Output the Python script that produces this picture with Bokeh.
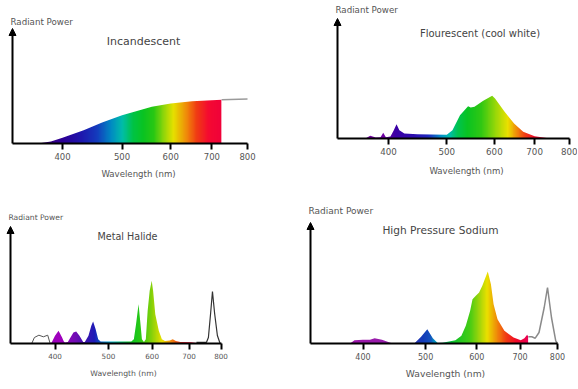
import numpy as np
from bokeh.plotting import figure
from bokeh.layouts import column, row
from bokeh.models import FixedTicker, BasicTickFormatter, Label, Arrow, NormalHead, Range1d
from bokeh.embed import file_html
from bokeh.resources import INLINE

# ---------------- data (wavelength in nm, relative radiant power) ----------------
TICKS = [400, 500, 600, 700, 800]
TICK_LABELS = ["400", "500", "600", "700", "800"]
X_LABEL = "Wavelength (nm)"
Y_LABEL = "Radiant Power"
TITLES = ["Incandescent", "Flourescent (cool white)", "Metal Halide", "High Pressure Sodium"]

# Incandescent
inc_wl = [365, 383, 400, 433, 464, 500, 527, 559, 600, 650, 700, 726]
inc_pw = [0, 2, 5.7, 13.3, 21, 28.3, 32.3, 36.7, 40, 42.3, 43.3, 43.7]
inc_tail_wl = [726, 800]
inc_tail_pw = [43.7, 44.5]

# Fluorescent (cool white)
flu_wl = [366, 373, 381, 388, 392, 396, 403, 408, 412.5, 417, 425, 447, 472, 500,
          511, 526, 542.5, 548, 556, 575, 595, 601.5, 624, 647, 670, 700, 743]
flu_pw = [0, 2.7, 1, 1.3, 5.7, 1.3, 2, 8, 14.3, 8.3, 5, 4.3, 4, 3.7,
          8.3, 23.3, 32.3, 31, 31.7, 37.7, 42.7, 40, 26.7, 15, 6.7, 2.3, 0]

# Metal Halide
mh_uv_wl = [363, 367, 374, 381, 388, 392]
mh_uv_pw = [0, 6, 8.3, 6.7, 8.3, 0]
mh_wl = [392, 394.5, 400, 406, 412, 415, 417, 422, 432, 437, 443, 450,
         453, 460, 465.5, 469, 474, 479, 484, 500, 536, 550,
         556, 561, 567, 572, 575, 580,
         584.5, 589, 594, 599, 602.5, 608, 617, 625, 633,
         646, 654, 662.5, 675, 706, 722]
mh_pw = [0, 1, 7.7, 12.7, 6, 2, 1, 1.5, 11, 12, 7.7, 1.5,
         1.5, 7.7, 17.7, 22, 14.3, 4.3, 2, 2, 2, 2,
         4.3, 19, 39.3, 17.7, 4.3, 1.5,
         4.3, 32.7, 52.7, 62.7, 52.7, 29.3, 12.7, 4.3, 2.5,
         3, 4.3, 2.5, 1.5, 1.2, 0.6]
mh_ir_wl = [722, 753, 759, 766, 772, 779, 788, 797]
mh_ir_pw = [1.2, 1.2, 6, 30, 52, 30, 8, 0]

# High Pressure Sodium
hps_wl = [382, 388, 400, 410, 417, 428, 442, 481, 492, 503, 513, 522, 531,
          556, 568, 577, 586, 591, 598, 605, 612, 624, 631, 637, 646, 662,
          684, 702, 711, 718, 721]
hps_pw = [0, 3.3, 3.7, 3.7, 5.3, 3.7, 0.4, 0.4, 6.7, 14.3, 5.3, 0.4, 0.8,
          3.3, 7.7, 17.7, 32.7, 44.3, 47.7, 51, 57.7, 72, 59.3, 39.3, 24.3, 12.7,
          6, 3.3, 5.3, 8.7, 6.7]
hps_ir_wl = [721, 730, 739, 749, 763, 772, 783, 795, 800]
hps_ir_pw = [6.7, 6.7, 5.3, 11, 36, 56, 26, 2.7, 0]

# ---------------- styling: colour stops of the visible-spectrum gradient ----------------
TL_STOPS = [(360, (70, 0, 120)), (400, (45, 0, 150)), (430, (30, 25, 175)),
            (455, (20, 60, 190)), (480, (0, 140, 195)), (500, (0, 190, 170)),
            (520, (0, 195, 70)), (540, (10, 195, 35)), (562, (40, 200, 20)),
            (585, (150, 215, 10)), (605, (230, 225, 0)), (635, (240, 140, 10)),
            (660, (240, 60, 20)), (690, (245, 10, 50)), (730, (240, 0, 60))]
TR_STOPS = [(360, (120, 0, 160)), (395, (110, 0, 165)), (410, (60, 0, 165)),
            (440, (45, 15, 175)), (465, (30, 40, 190)), (490, (0, 150, 200)),
            (505, (0, 190, 170)), (520, (0, 195, 80)), (540, (10, 195, 35)),
            (570, (50, 200, 20)), (600, (150, 215, 10)), (630, (235, 225, 0)),
            (650, (240, 145, 10)), (670, (240, 70, 20)), (695, (240, 15, 40)),
            (745, (235, 0, 70))]
BL_STOPS = [(360, (150, 0, 180)), (410, (160, 0, 190)), (437, (110, 15, 180)),
            (455, (60, 20, 175)), (472, (30, 30, 185)), (490, (0, 120, 200)),
            (505, (0, 175, 200)), (525, (0, 190, 120)), (545, (10, 195, 40)),
            (570, (40, 200, 20)), (600, (140, 210, 10)), (625, (235, 225, 0)),
            (645, (240, 150, 10)), (665, (240, 80, 20)), (685, (240, 20, 40)),
            (725, (235, 0, 60))]
BR_STOPS = [(360, (160, 20, 170)), (440, (150, 30, 170)), (470, (60, 50, 180)),
            (495, (20, 60, 185)), (508, (20, 80, 190)), (518, (0, 160, 190)),
            (535, (0, 190, 100)), (555, (20, 195, 40)), (585, (70, 205, 20)),
            (607, (170, 215, 10)), (622, (235, 225, 0)), (644, (240, 140, 10)),
            (665, (240, 60, 20)), (690, (240, 10, 40)), (722, (235, 0, 90))]

FONT = "DejaVu Sans"
TEXT_COLOR = "#555555"
TITLE_COLOR = "#444444"


def gradient_image(x0, x1, stops, n=400):
    # columns evenly spaced on screen (log x scale)
    t = (np.arange(n) + 0.5) / n
    wl = x0 * (x1 / x0) ** t
    sw = [s[0] for s in stops]
    img = np.empty((2, n), dtype=np.uint32)
    view = img.view(dtype=np.uint8).reshape((2, n, 4))
    for c in range(3):
        vals = np.interp(wl, sw, [s[1][c] for s in stops]).astype(np.uint8)
        view[:, :, c] = vals[None, :]
    view[:, :, 3] = 255
    return img


def make_panel(box, axis_px, base_y, tip_y, fonts, title, title_xy, rp_xy, xl_xy):
    """box = (left, top, width, height) of the figure on the page;
    axis_px = page x of the y-axis, of the first tick and of the last tick."""
    left, top, w, h = box
    s_px, a_px, b_px = axis_px
    k = (b_px - a_px) / np.log(TICKS[-1] / TICKS[0])
    x_start = TICKS[0] * np.exp(-(a_px - left) / k)
    x_end = TICKS[-1] * np.exp((left + w - b_px) / k)
    axis_start = TICKS[0] * np.exp(-(a_px - s_px) / k)
    ytop = base_y - tip_y
    p = figure(width=w, height=h, x_axis_type="log",
               x_range=Range1d(x_start, x_end),
               y_range=Range1d(-(top + h - base_y), base_y - top),
               output_backend="svg", toolbar_location=None,
               min_border_left=0, min_border_right=0, min_border_top=0, min_border_bottom=0)
    p.xgrid.visible = False
    p.ygrid.visible = False
    p.outline_line_color = None
    p.background_fill_color = "white"
    p.border_fill_color = "white"
    p.yaxis.visible = False
    ax = p.xaxis[0]
    ax.fixed_location = 0
    ax.bounds = (axis_start, TICKS[-1] + 0.5)
    ax.ticker = FixedTicker(ticks=TICKS, minor_ticks=[])
    ax.formatter = BasicTickFormatter()
    ax.major_label_overrides = {t: s for t, s in zip(TICKS, TICK_LABELS)}
    ax.axis_line_width = 2
    ax.axis_line_color = "black"
    ax.major_tick_line_width = 2
    ax.major_tick_line_color = "black"
    ax.major_tick_out = 6
    ax.major_tick_in = 0
    ax.minor_tick_out = 0
    ax.minor_tick_in = 0
    ax.major_label_standoff = 3
    ax.major_label_text_font = FONT
    ax.major_label_text_font_size = f"{fonts[0]}px"
    ax.major_label_text_color = TEXT_COLOR
    # y-axis drawn as an arrow
    p.add_layout(Arrow(end=NormalHead(size=7, fill_color="black", line_color="black", line_width=1),
                       x_start=axis_start, y_start=0, x_end=axis_start, y_end=ytop,
                       line_width=2, line_color="black"))

    def lab(xy, text, size, align, color):
        p.add_layout(Label(x=xy[0] - left, y=top + h - xy[1], x_units="screen", y_units="screen",
                           text=text, text_font=FONT, text_font_size=f"{size}px",
                           text_color=color, text_align=align, text_baseline="middle"))
    lab(rp_xy, Y_LABEL, fonts[1], "left", TEXT_COLOR)
    lab(title_xy, title, fonts[2], "center", TITLE_COLOR)
    lab(xl_xy, X_LABEL, fonts[3], "center", TEXT_COLOR)
    return p, axis_start, ytop


def spectrum(p, axis_start, wl, pw, stops, ytop):
    x0, x1 = wl[0], wl[-1]
    p.image_rgba(image=[gradient_image(x0, x1, stops)], x=x0, y=0, dw=x1 - x0, dh=ytop)
    # white mask above the curve (and beside it) leaves the gradient only under the curve
    mx = [axis_start, x0] + list(wl) + [x1, TICKS[-1] + 0.5]
    my = [0, 0] + list(pw) + [0, 0]
    p.varea(x=mx, y1=my, y2=ytop + 4, fill_color="white", fill_alpha=1)


# ---------------- Incandescent ----------------
p1, s1, t1 = make_panel((0, 0, 300, 192), (12, 62, 247), 143, 28, (8.5, 8.7, 11, 8.6),
                        TITLES[0], (143, 41), (10, 21), (138, 173))
spectrum(p1, s1, inc_wl, inc_pw, TL_STOPS, t1)
p1.line(inc_tail_wl, inc_tail_pw, line_color="#9a9a9a", line_width=1.5)

# ---------------- Fluorescent ----------------
p2, s2, t2 = make_panel((300, 0, 277, 192), (337, 388, 569), 138, 18, (8.7, 8.7, 10, 8.6),
                        TITLES[1], (479.5, 33.3), (335, 9), (466, 170))
spectrum(p2, s2, flu_wl, flu_pw, TR_STOPS, t2)

# ---------------- Metal Halide ----------------
p3, s3, t3 = make_panel((0, 192, 270, 196), (10, 54.5, 220.5), 343, 226, (7.2, 7.6, 9.6, 7.7),
                        TITLES[2], (127, 236), (8, 216.7), (123, 372.7))
spectrum(p3, s3, mh_wl, mh_pw, BL_STOPS, t3)
p3.varea(x=mh_uv_wl, y1=0, y2=mh_uv_pw, fill_color="white")
p3.line(mh_uv_wl, mh_uv_pw, line_color="#555555", line_width=1)
p3.varea(x=mh_ir_wl, y1=0, y2=mh_ir_pw, fill_color="white")
p3.line(mh_ir_wl, mh_ir_pw, line_color="#333333", line_width=1.2)

# ---------------- High Pressure Sodium ----------------
p4, s4, t4 = make_panel((270, 192, 307, 196), (310, 362.5, 557), 343, 222, (8, 9, 10.6, 9.2),
                        TITLES[3], (440, 229), (308, 210.7), (445, 372.7))
spectrum(p4, s4, hps_wl, hps_pw, BR_STOPS, t4)
p4.line(hps_ir_wl, hps_ir_pw, line_color="#8a8a8a", line_width=1.5)

layout = column(row(p1, p2), row(p3, p4))
open("out.html", "w").write(file_html(layout, INLINE))
